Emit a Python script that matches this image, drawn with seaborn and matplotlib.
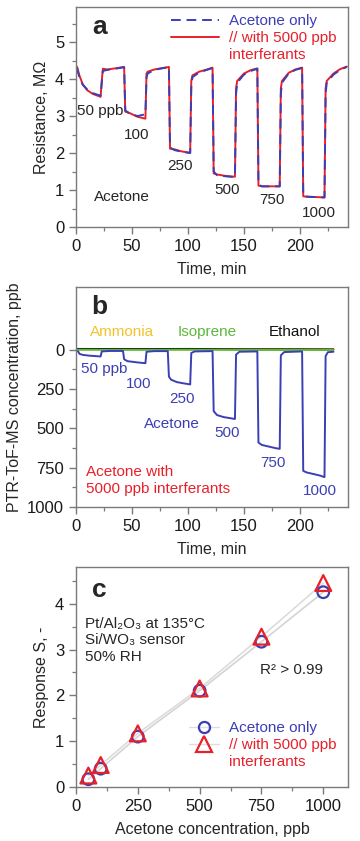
#!/usr/bin/env python3
"""Acetone sensing with and without interferants: resistance, PTR-ToF-MS and response."""

import matplotlib

matplotlib.use("Agg")
import matplotlib.pyplot as plt
import numpy as np
import pandas as pd
import seaborn as sns
from matplotlib.lines import Line2D
from matplotlib.ticker import MultipleLocator

BLUE = "#3b3fb4"
RED = "#e8202a"
YELLOW = "#f3c22c"
GREEN = "#5cb83c"
SPINE = "#7a7a7a"

# panel a: sensor resistance (MOhm) vs time (min)
res_time = [0, 1, 3, 6, 10, 15, 22, 23, 24, 28, 35, 43,
            44, 48, 55, 62, 63, 64, 70, 78, 83,
            84, 88, 95, 102, 103, 104, 110, 117, 122,
            123, 126, 134, 142, 143, 144, 150, 156, 162,
            163, 166, 174, 182, 183, 184, 190, 196, 202,
            203, 206, 214, 222, 223, 224, 230, 236, 242]
res_acetone = [4.30, 4.28, 4.05, 3.85, 3.72, 3.62, 3.55, 3.90, 4.22, 4.25, 4.28, 4.32,
               3.15, 3.07, 3.00, 3.05, 4.05, 4.15, 4.25, 4.30, 4.32,
               2.15, 2.08, 2.03, 2.00, 3.80, 4.05, 4.18, 4.25, 4.30,
               1.50, 1.40, 1.37, 1.35, 3.60, 3.90, 4.12, 4.22, 4.28,
               1.15, 1.10, 1.10, 1.10, 3.60, 3.90, 4.15, 4.25, 4.30,
               0.85, 0.82, 0.81, 0.80, 3.60, 3.90, 4.12, 4.25, 4.33]
res_interf = [4.35, 4.33, 4.10, 3.86, 3.70, 3.60, 3.52, 3.95, 4.28, 4.26, 4.29, 4.33,
              3.12, 3.08, 2.98, 2.93, 4.15, 4.20, 4.26, 4.30, 4.33,
              2.12, 2.10, 2.04, 2.01, 3.95, 4.10, 4.20, 4.26, 4.31,
              1.45, 1.42, 1.38, 1.36, 3.75, 3.95, 4.15, 4.24, 4.29,
              1.12, 1.10, 1.10, 1.10, 3.75, 3.95, 4.17, 4.26, 4.31,
              0.83, 0.82, 0.81, 0.80, 3.75, 3.95, 4.15, 4.27, 4.34]

# panel b: PTR-ToF-MS concentrations (ppb) vs time (min)
ms_time = [0, 2, 3, 6, 12, 22, 23, 30, 42,
           43, 46, 55, 62, 63, 70, 82,
           83, 85, 90, 96, 102, 103, 106, 122,
           123, 126, 132, 138, 142, 143, 146, 162,
           163, 166, 172, 178, 182, 183, 186, 202,
           203, 206, 212, 218, 222, 223, 225, 230]
ms_acetone = [8, 10, 25, 32, 37, 42, 10, 7, 7,
              60, 72, 80, 85, 12, 8, 8,
              170, 190, 205, 213, 220, 20, 10, 8,
              390, 415, 428, 435, 440, 30, 12, 10,
              590, 605, 615, 625, 630, 35, 14, 10,
              770, 780, 790, 800, 810, 40, 15, 12]
bg_time = [0, 50, 100, 150, 200, 230]
ms_ammonia = [-3, -4, -2, -3, -2, -3]
ms_ethanol = [-6, -5, -6, -4, -4, -3]
ms_isoprene = [-1, 0, -1, 0, 0, 0]

# panel c: response vs acetone concentration
conc = [50, 100, 250, 500, 750, 1000]
resp_acetone = [0.17, 0.40, 1.10, 2.10, 3.17, 4.25]
resp_interf = [0.25, 0.48, 1.17, 2.15, 3.28, 4.45]

LEGEND_LABELS = ["Acetone only", "// with 5000 ppb", "interferants"]

TICK_FS = 12
LABEL_FS = 11.5
NOTE_FS = 11


def style_axes(ax):
    for side in ["left", "bottom", "top", "right"]:
        ax.spines[side].set_visible(True)
        ax.spines[side].set_color(SPINE)
        ax.spines[side].set_linewidth(1.0)
    ax.tick_params(which="both", direction="out", color=SPINE, top=False, right=False,
                   left=True, bottom=True, labelsize=TICK_FS, labelcolor="#1a1a1a")
    ax.tick_params(which="major", length=5, width=1.0)
    ax.tick_params(which="minor", length=3, width=0.9)


def two_series_legend(ax, handles, anchor, loc, handlelength):
    # third row carries the wrapped part of the red label, without a handle
    blank = Line2D([], [], color="none")
    leg = ax.legend(handles + [blank], LEGEND_LABELS, loc=loc, bbox_to_anchor=anchor,
                    frameon=False, fontsize=NOTE_FS, handlelength=handlelength,
                    handletextpad=0.6, labelspacing=0.2, borderaxespad=0.2)
    for text, color in zip(leg.get_texts(), [BLUE, RED, RED]):
        text.set_color(color)


def panel_a(ax):
    frame = pd.DataFrame({"t": res_time, "acetone": res_acetone, "interf": res_interf})
    sns.lineplot(data=frame, x="t", y="interf", color=RED, lw=1.4, ax=ax)
    sns.lineplot(data=frame, x="t", y="acetone", color=BLUE, lw=1.4, ax=ax)
    ax.lines[-1].set_dashes([5, 3])
    ax.set_xlim(0, 243)
    ax.set_ylim(0, 5.95)
    ax.xaxis.set_major_locator(MultipleLocator(50))
    ax.xaxis.set_minor_locator(MultipleLocator(25))
    ax.yaxis.set_major_locator(MultipleLocator(1))
    ax.yaxis.set_minor_locator(MultipleLocator(0.5))
    ax.set_xlabel("Time, min", fontsize=LABEL_FS, labelpad=6)
    ax.set_ylabel("Resistance, MΩ", fontsize=LABEL_FS, labelpad=4)
    ax.text(21, 5.42, "a", fontsize=19, fontweight="bold", ha="center", va="center")
    for x, y, s in [(22, 3.14, "50 ppb"), (54, 2.5, "100"), (93, 1.66, "250"),
                    (135, 0.99, "500"), (175, 0.72, "750"), (217, 0.38, "1000")]:
        ax.text(x, y, s, fontsize=NOTE_FS, ha="center", va="center")
    ax.text(41, 0.81, "Acetone", fontsize=NOTE_FS, ha="center", va="center")
    handles = [Line2D([], [], color=BLUE, lw=1.4, dashes=[5, 3]),
               Line2D([], [], color=RED, lw=1.4)]
    two_series_legend(ax, handles, (0.99, 1.01), "upper right", 3.2)


def panel_b(ax):
    sns.lineplot(x=bg_time, y=ms_ammonia, color=YELLOW, lw=1.6, ax=ax)
    sns.lineplot(x=bg_time, y=ms_ethanol, color="#111111", lw=1.4, ax=ax)
    sns.lineplot(x=bg_time, y=ms_isoprene, color=GREEN, lw=1.4, ax=ax)
    sns.lineplot(x=ms_time, y=ms_acetone, color=BLUE, lw=1.4, ax=ax)
    ax.set_xlim(0, 243)
    ax.set_ylim(1000, -400)
    ax.set_xticks([0, 50, 100, 150, 200])
    ax.xaxis.set_minor_locator(MultipleLocator(25))
    ax.set_yticks([0, 250, 500, 750, 1000])
    ax.set_yticks([125, 375, 625, 875], minor=True)
    ax.set_xlabel("Time, min", fontsize=LABEL_FS, labelpad=6)
    ax.set_ylabel("PTR-ToF-MS concentration, ppb", fontsize=LABEL_FS, labelpad=4)
    ax.text(21, -272, "b", fontsize=19, fontweight="bold", ha="center", va="center")
    ax.text(41, -112, "Ammonia", color=YELLOW, fontsize=NOTE_FS, ha="center", va="center")
    ax.text(117, -112, "Isoprene", color=GREEN, fontsize=NOTE_FS, ha="center", va="center")
    ax.text(195, -112, "Ethanol", color="#111111", fontsize=NOTE_FS, ha="center", va="center")
    for x, y, s in [(25, 120, "50 ppb"), (56, 220, "100"), (95, 311, "250"),
                    (86, 470, "Acetone"), (135, 530, "500"), (176, 720, "750"),
                    (218, 898, "1000")]:
        ax.text(x, y, s, color=BLUE, fontsize=NOTE_FS, ha="center", va="center")
    ax.text(9, 830, "Acetone with\n5000 ppb interferants", color=RED, fontsize=NOTE_FS,
            ha="left", va="center", linespacing=1.25)


def panel_c(ax):
    frame = pd.DataFrame({"conc": conc, "acetone": resp_acetone, "interf": resp_interf})
    sns.lineplot(data=frame, x="conc", y="acetone", color="#d4d4d4", lw=1.2, ax=ax)
    sns.lineplot(data=frame, x="conc", y="interf", color="#dcdcdc", lw=1.2, ax=ax)
    sns.scatterplot(data=frame, x="conc", y="acetone", marker="o", s=70,
                    facecolor="none", edgecolor=BLUE, linewidth=1.6, ax=ax, zorder=3)
    sns.scatterplot(data=frame, x="conc", y="interf", marker="^", s=130,
                    facecolor="none", edgecolor=RED, linewidth=1.6, ax=ax, zorder=4)
    ax.set_xlim(0, 1100)
    ax.set_ylim(0, 4.8)
    ax.xaxis.set_major_locator(MultipleLocator(250))
    ax.xaxis.set_minor_locator(MultipleLocator(125))
    ax.yaxis.set_major_locator(MultipleLocator(1))
    ax.yaxis.set_minor_locator(MultipleLocator(0.5))
    ax.set_xlabel("Acetone concentration, ppb", fontsize=LABEL_FS, labelpad=6)
    ax.set_ylabel("Response S, -", fontsize=LABEL_FS, labelpad=4)
    ax.text(95, 4.29, "c", fontsize=19, fontweight="bold", ha="center", va="center")
    ax.text(38, 3.2, "Pt/Al₂O₃ at 135°C\nSi/WO₃ sensor\n50% RH", fontsize=NOTE_FS,
            ha="left", va="center", linespacing=1.2)
    ax.text(743, 2.55, "R² > 0.99", fontsize=NOTE_FS, ha="left", va="center")
    handles = [Line2D([], [], color="#dddddd", lw=1.0, marker="o", ms=8,
                      mfc="none", mec=BLUE, mew=1.6),
               Line2D([], [], color="#dddddd", lw=1.0, marker="^", ms=11,
                      mfc="none", mec=RED, mew=1.6)]
    two_series_legend(ax, handles, (0.99, 0.04), "lower right", 2.0)


def main():
    sns.set_theme(style="white")
    plt.rcParams["font.family"] = ["Liberation Sans", "DejaVu Sans"]
    fig = plt.figure(figsize=(3.6, 8.41), dpi=100)
    ax_a = fig.add_axes([76 / 360, 1 - 227 / 841, 272 / 360, 220 / 841])
    ax_b = fig.add_axes([76 / 360, 1 - 507 / 841, 272 / 360, 220 / 841])
    ax_c = fig.add_axes([76 / 360, 1 - 787 / 841, 272 / 360, 220 / 841])
    for ax in (ax_a, ax_b, ax_c):
        style_axes(ax)
    panel_a(ax_a)
    panel_b(ax_b)
    panel_c(ax_c)
    fig.savefig("out.png", dpi=100, facecolor="white")
    plt.close(fig)


if __name__ == "__main__":
    main()
